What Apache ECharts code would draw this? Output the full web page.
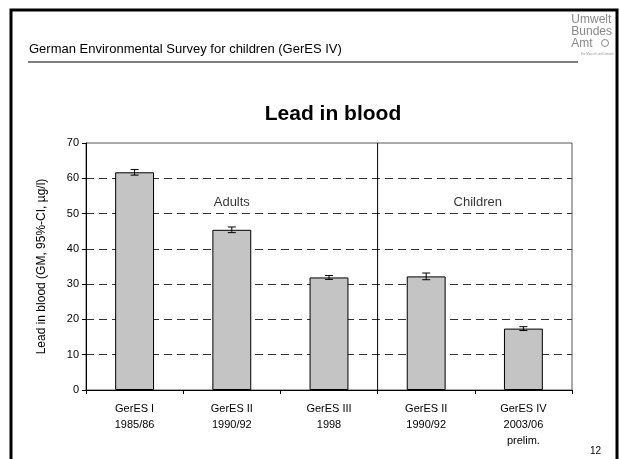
<!DOCTYPE html>
<html>
<head>
<meta charset="utf-8">
<script src="https://cdn.jsdelivr.net/npm/echarts@6/dist/echarts.min.js"></script>
<style>
  html, body { margin: 0; padding: 0; background: #fff; }
  #main { width: 620px; height: 459px; }
</style>
</head>
<body>
<div id="main"></div>
<script>
// categories and values
var categories = ['GerES I\n1985/86', 'GerES II\n1990/92', 'GerES III\n1998', 'GerES II\n1990/92', 'GerES IV\n2003/06\nprelim.'];
var leadGM = [61.7, 45.4, 31.9, 32.2, 17.4];
var ciLow = [60.9, 44.6, 31.35, 31.25, 16.85];
var ciHigh = [62.5, 46.2, 32.45, 33.15, 17.95];
var yTicks = [0, 10, 20, 30, 40, 50, 60, 70];
var groupNames = ['Adults', 'Children'];
var groupPos = [[1.5, 53.3], [4.03, 53.3]];
var dividerAt = 3;

var font = 'Liberation Sans, Arial, sans-serif';
var chart = echarts.init(document.getElementById('main'));

var errData = categories.map(function (c, i) { return [i, ciLow[i], ciHigh[i]]; });

var option = {
  animation: false,
  textStyle: { fontFamily: font },
  title: {
    text: 'Lead in blood',
    left: 328, top: 99, textAlign: 'center',
    textStyle: { fontFamily: font, fontSize: 21, fontWeight: 'bold', color: '#000' }
  },
  grid: {
    left: 86, right: 48, top: 143, bottom: 69,
    show: true, borderColor: '#555', borderWidth: 1
  },
  xAxis: [
    {
      type: 'category',
      data: categories,
      axisLine: { lineStyle: { color: '#000', width: 1 } },
      axisTick: { show: true, length: 4, lineStyle: { color: '#000' } },
      axisLabel: { fontFamily: font, fontSize: 11, color: '#000', lineHeight: 16, margin: 11 }
    },
    {
      type: 'value', min: 0, max: 5, show: false
    }
  ],
  yAxis: {
    type: 'value', min: yTicks[0], max: yTicks[yTicks.length - 1], interval: 10,
    name: 'Lead in blood (GM, 95%-CI, µg/l)',
    nameLocation: 'middle', nameGap: 38,
    nameTextStyle: { fontFamily: font, fontSize: 12, color: '#000' },
    axisLine: { show: true, lineStyle: { color: '#000' } },
    axisTick: { show: true, length: 4, lineStyle: { color: '#000' } },
    axisLabel: { fontFamily: font, fontSize: 11, color: '#000', margin: 7 },
    splitLine: {
      show: true, showMinLine: false, showMaxLine: false,
      lineStyle: { color: '#333', type: [8, 5], width: 1 }
    }
  },
  series: [
    {
      type: 'bar',
      data: leadGM,
      barWidth: '40%',
      itemStyle: { color: '#c4c4c4', borderColor: '#000', borderWidth: 1 },
      z: 2
    },
    {
      type: 'custom',
      data: errData,
      z: 3,
      renderItem: function (params, api) {
        var lo = api.coord([api.value(0), api.value(1)]);
        var hi = api.coord([api.value(0), api.value(2)]);
        var w = 4;
        var st = { stroke: '#000', lineWidth: 1 };
        return {
          type: 'group',
          children: [
            { type: 'line', shape: { x1: lo[0], y1: lo[1], x2: hi[0], y2: hi[1] }, style: st },
            { type: 'line', shape: { x1: lo[0] - w, y1: lo[1], x2: lo[0] + w, y2: lo[1] }, style: st },
            { type: 'line', shape: { x1: hi[0] - w, y1: hi[1], x2: hi[0] + w, y2: hi[1] }, style: st }
          ]
        };
      }
    },
    {
      type: 'line',
      xAxisIndex: 1,
      data: [[dividerAt, yTicks[0]], [dividerAt, yTicks[yTicks.length - 1]]],
      symbol: 'none',
      lineStyle: { color: '#000', width: 1 },
      z: 4
    },
    {
      type: 'scatter',
      xAxisIndex: 1,
      symbolSize: 0,
      data: groupPos.map(function (p, i) { return { value: p, name: groupNames[i] }; }),
      label: {
        show: true, position: 'inside', formatter: '{b}',
        fontFamily: font, fontSize: 13, color: '#000'
      },
      z: 5
    }
  ],
  graphic: [
    { type: 'rect', shape: { x: 11, y: 10, width: 606, height: 470 },
      style: { fill: 'none', stroke: '#000', lineWidth: 3 } },
    { type: 'text', left: 29, top: 43,
      style: { text: 'German Environmental Survey for children (GerES IV)', font: '13px ' + font, fill: '#000' } },
    { type: 'line', shape: { x1: 28, y1: 62, x2: 578, y2: 62 }, style: { stroke: '#000', lineWidth: 1 } },
    { type: 'text', right: 8, top: 14,
      style: { text: 'Umwelt\nBundes\nAmt  ', font: '12px ' + font, fill: '#888', align: 'right', lineHeight: 12 } },
    { type: 'circle', shape: { cx: 605, cy: 43, r: 3.5 }, style: { fill: 'none', stroke: '#888', lineWidth: 1 } },
    { type: 'text', x: 581, y: 53,
      style: { text: 'Für Mensch und Umwelt', font: '3px ' + font, fill: '#999' } },
    { type: 'text', x: 590, y: 446,
      style: { text: '12', font: '10px ' + font, fill: '#000' } }
  ]
};

chart.setOption(option);
</script>
</body>
</html>
